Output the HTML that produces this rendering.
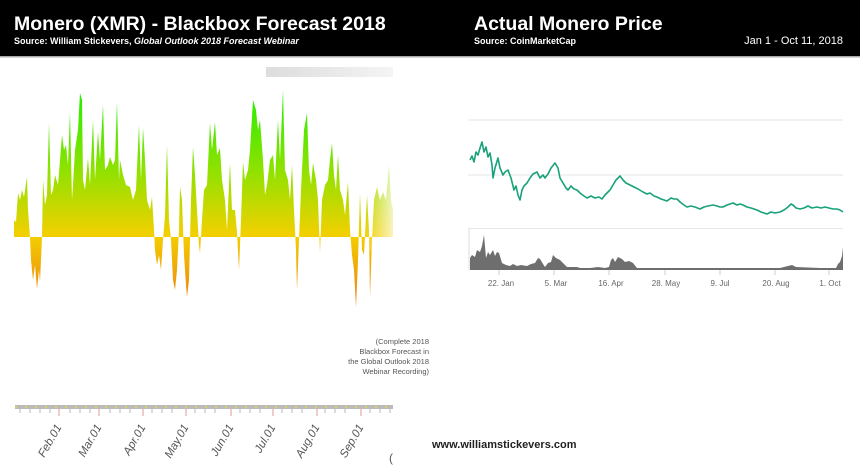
<!DOCTYPE html>
<html><head><meta charset="utf-8"><style>
html,body{margin:0;padding:0;width:860px;height:469px;overflow:hidden;background:#fff;font-family:"Liberation Sans",sans-serif}
</style></head><body>
<svg width="860" height="469" viewBox="0 0 860 469" xmlns="http://www.w3.org/2000/svg" style="position:absolute;left:0;top:0">
<defs>
<linearGradient id="g" gradientUnits="userSpaceOnUse" x1="0" y1="92" x2="0" y2="308">
<stop offset="0" stop-color="#22ee00"/>
<stop offset="0.4" stop-color="#9be000"/>
<stop offset="0.66" stop-color="#f2d000"/>
<stop offset="1" stop-color="#ee7a10"/>
</linearGradient>
<linearGradient id="fade" x1="0" x2="1" y1="0" y2="0">
<stop offset="0" stop-color="#fff" stop-opacity="0"/><stop offset="1" stop-color="#fff" stop-opacity="0.8"/>
</linearGradient>
<linearGradient id="gb" x1="0" x2="1"><stop offset="0" stop-color="#ddd"/><stop offset="1" stop-color="#f4f4f4"/></linearGradient>
</defs>
<rect x="0" y="0" width="860" height="56" fill="#000"/>
<rect x="0" y="56" width="860" height="1.5" fill="#aaa"/>
<text x="14" y="30" fill="#fff" font-size="19.5" font-weight="bold">Monero (XMR) - Blackbox Forecast 2018</text>
<text x="14" y="44" fill="#fff" font-size="9" font-weight="bold">Source: William Stickevers, <tspan font-style="italic">Global Outlook 2018 Forecast Webinar</tspan></text>
<text x="474" y="30" fill="#fff" font-size="19.5" font-weight="bold">Actual Monero Price</text>
<text x="474" y="44" fill="#fff" font-size="9" font-weight="bold">Source: CoinMarketCap</text>
<text x="843" y="44" fill="#fff" font-size="11" text-anchor="end">Jan 1 - Oct 11, 2018</text>
<rect x="266" y="67" width="127" height="10" fill="url(#gb)"/>
<path fill="url(#g)" d="M14 237 L14 220 L16 222 L18 193 L20 200 L22 190 L24 197 L27 177 L28 210 L30 237 L31 260 L33 280 L35 265 L37 289 L39 270 L40 282 L42 237 L43 180 L45 205 L47 195 L49 123 L51 195 L53 190 L55 175 L58 185 L60 160 L62 135 L64 150 L66 145 L68 165 L70 112 L72 200 L73 185 L75 150 L78 130 L80 93 L82 100 L83 180 L85 190 L88 158 L90 185 L93 120 L95 180 L98 132 L100 160 L103 105 L105 170 L108 165 L110 157 L113 165 L115 160 L117 102 L119 180 L120 160 L123 175 L126 185 L130 187 L133 200 L136 190 L139 125 L141 180 L143 128 L145 160 L147 200 L150 210 L152 197 L154 230 L155 250 L157 265 L159 255 L161 270 L163 240 L165 215 L167 145 L169 220 L171 240 L173 280 L175 290 L177 270 L179 230 L180 187 L182 200 L184 255 L186 285 L187 297 L189 280 L191 200 L193 147 L195 175 L197 210 L199 245 L200 253 L202 220 L204 190 L207 185 L210 123 L212 150 L215 122 L217 155 L220 148 L222 180 L225 200 L227 230 L230 163 L232 210 L235 210 L237 232 L239 270 L241 220 L243 162 L245 180 L248 170 L250 150 L253 100 L256 110 L258 130 L260 120 L263 160 L265 195 L267 185 L270 160 L273 155 L275 180 L278 120 L280 160 L283 90 L285 170 L288 180 L290 200 L292 165 L294 210 L296 250 L297 290 L299 240 L301 190 L304 130 L307 113 L309 170 L311 185 L313 163 L316 180 L318 200 L320 253 L322 200 L325 185 L328 180 L330 160 L332 143 L334 175 L336 190 L338 155 L340 190 L343 200 L345 215 L348 182 L350 230 L352 255 L354 270 L356 307 L358 260 L360 193 L362 250 L364 255 L367 195 L369 230 L370 297 L372 240 L374 200 L377 187 L380 200 L383 192 L386 200 L389 165 L391 200 L393 210 L393 237 Z"/>
<rect x="365" y="150" width="30" height="100" fill="url(#fade)"/>
<text font-size="7.5" fill="#555" text-anchor="end"><tspan x="429" y="344">(Complete 2018</tspan><tspan x="429" y="354">Blackbox Forecast in</tspan><tspan x="429" y="364">the Global Outlook 2018</tspan><tspan x="429" y="374">Webinar Recording)</tspan></text>
<rect x="15" y="405" width="378" height="4" fill="#bbb"/>
<line x1="15" y1="407" x2="393" y2="407" stroke="#e5dd40" stroke-width="1.5" stroke-dasharray="2 8"/>
<g stroke="#999" stroke-width="0.7">
<path d="M20 409v4M30 409v4M40 409v4M50 409v4M70 409v4M80 409v4M90 409v4M110 409v4M120 409v4M130 409v4M152 409v4M162 409v4M172 409v4M195 409v4M205 409v4M215 409v4M240 409v4M250 409v4M260 409v4M282 409v4M292 409v4M302 409v4M325 409v4M335 409v4M345 409v4M370 409v4M380 409v4M390 409v4"/>
</g>
<g stroke="#e08080" stroke-width="0.8"><path d="M59 409v7M99 409v7M143 409v7M186 409v7M231 409v7M273 409v7M317 409v7M361 409v7"/></g>
<g font-size="11.5" fill="#555" font-style="italic">
<text transform="translate(62,427) rotate(-60)" text-anchor="end">Feb.01</text>
<text transform="translate(102,427) rotate(-60)" text-anchor="end">Mar.01</text>
<text transform="translate(146,427) rotate(-60)" text-anchor="end">Apr.01</text>
<text transform="translate(189,427) rotate(-60)" text-anchor="end">May.01</text>
<text transform="translate(234,427) rotate(-60)" text-anchor="end">Jun.01</text>
<text transform="translate(276,427) rotate(-60)" text-anchor="end">Jul.01</text>
<text transform="translate(320,427) rotate(-60)" text-anchor="end">Aug.01</text>
<text transform="translate(364,427) rotate(-60)" text-anchor="end">Sep.01</text>
</g>
<text x="389" y="462" font-size="12" fill="#555">(</text>
<text x="432" y="448" font-size="11" font-weight="bold" fill="#222">www.williamstickevers.com</text>
<g stroke="#e6e6e6" stroke-width="1"><path d="M468 120H843M468 175H843M468 228.5H843"/></g>
<path d="M469 229V270" stroke="#ddd"/>
<polyline fill="none" stroke="#17a27a" stroke-width="1.6" stroke-linejoin="round" points="470,160 472,156 474,162 476,152 478,155 480,148 482,142 484,152 486,147 488,157 490,153 492,165 493,178 495,168 498,158 500,168 503,175 505,172 508,170 511,178 514,190 516,186 518,195 520,200 522,190 524,186 527,183 530,178 533,174 537,172 540,178 543,175 545,178 548,174 551,168 555,163 558,168 560,178 563,183 566,188 568,190 571,186 574,189 577,190 580,193 584,196 587,198 591,196 595,198 599,197 602,199 605,195 608,192 610,190 613,185 616,180 620,176 623,180 626,183 630,185 634,187 638,189 643,192 647,194 650,193 654,196 657,197 661,199 664,200 667,201 671,198 674,199 677,199 680,202 684,205 687,207 691,206 695,207 700,209 704,207 708,206 713,205 717,206 720,207 723,207 727,205 730,204 733,203 737,205 740,204 743,205 747,207 751,208 757,210 761,212 764,213 767,214 771,212 775,213 780,212 784,210 788,207 791,204 793,205 796,208 800,209 804,208 808,206 812,208 817,207 821,208 825,207 829,208 833,209 837,209 840,210 843,212"/>
<path fill="#6e6e6e" d="M470 270 L470 258 L472 255 L475 257 L477 250 L480 252 L482 246 L484 235 L486 258 L488 252 L490 255 L493 250 L495 256 L497 252 L499 253 L502 263 L506 265 L510 266 L513 264 L517 266 L521 265 L527 266 L531 264 L535 263 L538 258 L540 259 L543 264 L545 267 L548 263 L551 262 L553 255 L556 258 L560 260 L563 263 L567 267 L572 267 L577 267 L580 268 L583 268 L590 268 L598 267 L605 268 L609 267 L611 260 L613 258 L615 262 L618 257 L622 259 L625 262 L629 261 L633 263 L637 268 L660 268 L700 268 L740 268 L780 268 L788 266 L792 265 L796 267 L820 268 L836 268 L838 264 L840 262 L842 256 L843 247 L843 270 Z"/>
<g stroke="#ccc" stroke-width="1"><path d="M499 270v5M554 270v5M609 270v5M665 270v5M720 270v5M775 270v5M829 270v5"/></g>
<g font-size="8" fill="#666" text-anchor="middle">
<text x="501" y="286">22. Jan</text><text x="556" y="286">5. Mar</text><text x="611" y="286">16. Apr</text><text x="666" y="286">28. May</text><text x="720" y="286">9. Jul</text><text x="776" y="286">20. Aug</text><text x="830" y="286">1. Oct</text>
</g>
</svg>
</body></html>
